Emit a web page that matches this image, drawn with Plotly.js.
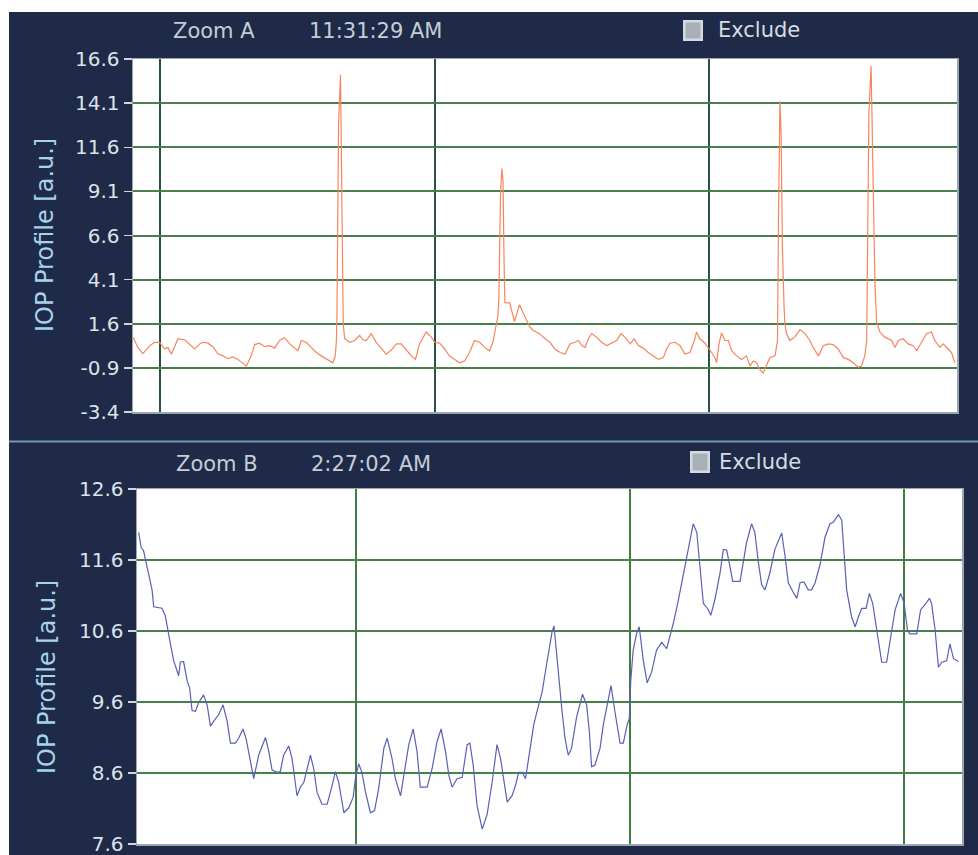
<!DOCTYPE html>
<html>
<head>
<meta charset="utf-8">
<script src="https://cdn.plot.ly/plotly-3.0.1.min.js"></script>
<style>html,body{margin:0;padding:0;background:#fff;}#chart{width:978px;height:855px;}</style>
</head>
<body>
<div id="chart"></div>
<script>
// ---- Zoom A (top) : IOP profile, samples vs a.u.
var topT = [
 0, 1.8, 3.6, 6.1, 7.9, 9.7, 11.5, 12.7, 14.0, 15.2,
 16.4, 18.8, 20.6, 22.5, 24.3, 25.5, 27.3, 29.1, 31.0, 32.8,
 34.6, 36.4, 38.2, 40.1, 41.3, 43.1, 44.3, 46.1, 48.0, 49.8,
 51.6, 53.4, 55.2, 57.1, 58.9, 60.1, 61.3, 63.1, 64.9, 66.8,
 68.6, 71.0, 72.8, 73.7, 74.1, 74.3, 74.9, 75.6, 76.0, 76.1,
 76.5, 76.6, 77.1, 78.9, 80.7, 82.6, 83.8, 85.0, 86.8, 88.6,
 90.4, 92.3, 94.1, 95.9, 97.7, 99.5, 101.4, 102.9, 104.4, 106.8,
 108.7, 109.9, 111.7, 113.5, 115.3, 117.2, 119.0, 120.8, 122.6, 124.4,
 126.3, 128.1, 129.9, 131.1, 132.3, 132.9, 133.3, 133.9, 134.4, 134.8,
 135.2, 135.5, 137.2, 139.0, 140.8, 142.6, 144.5, 145.7, 148.1, 150.1,
 151.9, 153.7, 155.6, 157.4, 159.2, 161.0, 162.2, 163.5, 164.7, 165.9,
 167.1, 168.9, 170.7, 172.6, 174.4, 176.2, 177.8, 179.2, 181.1, 182.6,
 184.1, 185.9, 187.7, 189.6, 191.4, 193.2, 194.4, 195.6, 197.4, 199.3,
 201.1, 202.9, 204.5, 205.3, 206.5, 208.4, 209.6, 210.8, 212.0, 212.6,
 213.5, 214.4, 215.7, 216.9, 218.1, 219.9, 221.7, 223.5, 224.8, 226.0,
 227.2, 228.4, 229.6, 230.8, 232.0, 233.9, 234.8, 235.2, 235.7, 236.1,
 236.6, 237.2, 237.5, 238.1, 239.3, 241.1, 243.0, 244.8, 246.6, 247.8,
 249.7, 251.5, 253.3, 255.1, 256.9, 258.8, 260.6, 262.4, 264.2, 265.4,
 266.6, 267.3, 267.6, 268.1, 268.9, 269.2, 269.8, 270.3, 270.9, 272.1,
 273.9, 276.4, 277.6, 278.8, 280.6, 282.4, 284.2, 285.5, 287.3, 289.1,
 290.9, 292.1, 294.0, 295.2, 297.0, 298.2, 299.4
];
var topV = [
 0.84, 0.26, -0.09, 0.36, 0.55, 0.55, 0.17, 0.26, -0.12, 0.36,
 0.75, 0.69, 0.46, 0.17, 0.46, 0.55, 0.50, 0.30, -0.12, -0.22,
 -0.38, -0.28, -0.42, -0.67, -0.80, -0.22, 0.42, 0.50, 0.30, 0.36,
 0.22, 0.65, 0.81, 0.46, 0.22, 0.07, 0.65, 0.55, 0.26, -0.03,
 -0.22, -0.47, -0.61, -0.22, 0.65, 2.0, 13.0, 15.7, 10.0, 5.2,
 2.8, 1.6, 0.75, 0.55, 0.65, 0.94, 0.69, 0.65, 1.04, 0.55,
 0.22, -0.12, 0.11, 0.46, 0.46, 0.11, -0.22, -0.42, 0.46, 1.13,
 0.84, 0.55, 0.50, 0.17, -0.22, -0.42, -0.61, -0.51, -0.03, 0.65,
 0.55, 0.26, 0.07, 0.55, 1.43, 2.0, 3.0, 9.0, 10.4, 9.7,
 5.0, 2.8, 2.78, 1.72, 2.68, 2.10, 1.43, 1.23, 1.04, 0.75,
 0.55, 0.17, -0.03, -0.12, 0.46, 0.55, 0.65, 0.36, 0.26, 0.75,
 1.04, 0.84, 0.55, 0.36, 0.50, 0.65, 1.04, 0.84, 0.46, 0.75,
 0.36, 0.22, -0.03, -0.22, -0.42, -0.32, 0.17, 0.50, 0.55, 0.36,
 -0.12, -0.03, 0.65, 1.13, 0.75, 0.50, 0.26, -0.03, -0.32, -0.61,
 0.46, 1.08, 0.65, 0.65, 0.07, -0.22, -0.42, -0.22, -0.80, -0.51,
 -0.61, -1.00, -1.19, -0.80, -0.32, -0.22, 0.65, 8.0, 14.2, 12.5,
 6.0, 2.5, 1.6, 1.04, 0.65, 0.84, 1.27, 1.04, 0.65, 0.26,
 -0.22, 0.36, 0.46, 0.42, 0.17, -0.32, -0.42, -0.61, -0.86, -0.80,
 -0.22, 0.65, 6.0, 13.5, 16.2, 14.0, 8.0, 4.0, 1.7, 1.13,
 0.84, 0.65, 0.26, 0.65, 0.75, 0.46, 0.36, 0.07, 0.55, 1.04,
 1.13, 0.65, 0.26, 0.46, 0.17, -0.03, -0.61
];
var topTicks = [-3.4, -0.9, 1.6, 4.1, 6.6, 9.1, 11.6, 14.1, 16.6];

// ---- Zoom B (bottom)
var botT = [
 0.6, 1.5, 2.4, 3.0, 4.3, 5.5, 6.1, 7.9, 9.1, 10.3,
 11.2, 12.2, 13.4, 14.6, 15.2, 15.8, 17.0, 18.3, 19.2, 20.1,
 21.3, 22.5, 24.3, 25.6, 26.8, 28.0, 29.8, 31.4, 32.9, 34.1,
 35.9, 37.1, 38.7, 39.9, 41.4, 42.6, 44.4, 46.9, 48.1, 49.3,
 51.1, 52.3, 53.5, 55.4, 56.6, 58.4, 59.6, 60.9, 62.1, 63.3,
 64.5, 65.7, 67.5, 69.4, 71.2, 72.4, 73.6, 75.5, 77.3, 78.9,
 79.7, 80.9, 82.1, 83.4, 85.2, 86.7, 88.2, 90.1, 91.3, 93.1,
 94.3, 96.2, 97.4, 99.2, 100.8, 102.2, 103.4, 105.9, 107.7, 109.5,
 111.0, 112.6, 113.8, 115.0, 116.8, 118.7, 120.5, 121.5, 122.7, 124.1,
 126.0, 127.8, 129.6, 131.4, 132.7, 133.9, 135.1, 136.9, 138.1, 139.3,
 140.6, 141.8, 143.0, 144.8, 146.6, 147.9, 149.1, 150.3, 151.5, 152.2,
 153.1, 154.1, 155.0, 156.2, 157.4, 158.6, 160.4, 162.6, 164.1, 165.1,
 165.9, 167.1, 169.0, 170.2, 171.6, 173.0, 174.4, 176.3, 177.5, 178.9,
 179.7, 180.2, 181.1, 182.3, 183.3, 184.8, 186.2, 187.8, 189.6, 191.5,
 193.3, 194.5, 196.0, 197.6, 199.4, 201.2, 203.0, 204.3, 205.5, 206.7,
 208.5, 209.4, 210.9, 212.8, 214.0, 215.2, 216.4, 217.4, 220.1, 221.0,
 222.5, 224.3, 225.5, 226.8, 228.0, 229.2, 231.0, 232.8, 235.3, 236.5,
 237.7, 239.3, 240.8, 242.0, 243.4, 245.0, 246.2, 247.5, 249.3, 251.1,
 252.9, 254.1, 256.0, 257.2, 258.0, 259.0, 260.8, 262.1, 263.3, 264.5,
 266.1, 267.3, 268.5, 270.0, 271.8, 273.6, 274.8, 276.7, 278.7, 280.0,
 281.2, 282.1, 284.6, 286.0, 287.6, 289.2, 290.0, 291.3, 292.5, 293.7,
 295.5, 296.7, 298.0, 299.8
];
var botV = [
 11.99, 11.78, 11.73, 11.63, 11.42, 11.18, 10.94, 10.93, 10.92, 10.82,
 10.61, 10.42, 10.18, 10.02, 9.97, 10.16, 10.17, 9.90, 9.80, 9.48,
 9.47, 9.59, 9.70, 9.56, 9.26, 9.33, 9.42, 9.56, 9.33, 9.02,
 9.02, 9.09, 9.22, 9.07, 8.76, 8.52, 8.85, 9.10, 8.90, 8.64,
 8.61, 8.62, 8.85, 8.98, 8.80, 8.28, 8.40, 8.47, 8.66, 8.85,
 8.66, 8.33, 8.16, 8.16, 8.42, 8.62, 8.47, 8.04, 8.11, 8.26,
 8.52, 8.73, 8.61, 8.33, 8.04, 8.07, 8.38, 8.95, 9.09, 8.80,
 8.52, 8.28, 8.57, 9.00, 9.22, 8.90, 8.40, 8.40, 8.66, 9.04,
 9.22, 8.90, 8.57, 8.40, 8.52, 8.54, 9.00, 9.02, 8.71, 8.14,
 7.81, 8.02, 8.47, 9.00, 8.80, 8.47, 8.19, 8.28, 8.42, 8.61,
 8.61, 8.52, 8.80, 9.28, 9.56, 9.75, 10.04, 10.33, 10.59, 10.67,
 10.28, 9.87, 9.52, 9.09, 8.85, 8.95, 9.38, 9.71, 9.56, 9.18,
 8.69, 8.71, 8.95, 9.28, 9.56, 9.83, 9.47, 9.02, 9.02, 9.28,
 9.37, 9.90, 10.33, 10.56, 10.66, 10.18, 9.87, 10.02, 10.33, 10.44,
 10.35, 10.52, 10.75, 11.04, 11.40, 11.75, 12.11, 11.99, 11.51, 10.99,
 10.90, 10.82, 11.04, 11.42, 11.75, 11.74, 11.51, 11.30, 11.30, 11.51,
 11.85, 12.11, 11.99, 11.56, 11.25, 11.18, 11.42, 11.75, 11.98, 11.66,
 11.28, 11.16, 11.06, 11.28, 11.29, 11.18, 11.18, 11.28, 11.54, 11.92,
 12.11, 12.13, 12.24, 12.16, 11.75, 11.18, 10.80, 10.66, 10.80, 10.92,
 10.92, 11.13, 10.99, 10.61, 10.16, 10.16, 10.47, 10.90, 11.13, 10.99,
 10.61, 10.56, 10.56, 10.90, 10.97, 11.06, 10.99, 10.61, 10.09, 10.16,
 10.18, 10.42, 10.21, 10.17
];
var botTicks = [7.6, 8.6, 9.6, 10.6, 11.6, 12.6];

var headerA = ["Zoom A", "11:31:29 AM", "Exclude"];
var headerB = ["Zoom B", "2:27:02 AM", "Exclude"];
var yTitle = "IOP Profile [a.u.]";

// ---- layout helpers (pixel -> paper)
var W = 978, H = 855;
function px(x){ return x / W; }
function py(y){ return 1 - y / H; }

var NAVY = "#1e2a48";
var FONT = "DejaVu Sans";
var tickFont = {family: FONT, size: 20, color: "#dde3e8"};
var hdrFont = {family: FONT, size: 21, color: "#c3ced7"};

function yAxis(dom, ticks, anchor){
  return {
    domain: dom, range: [ticks[0], ticks[ticks.length - 1]], anchor: anchor,
    tickmode: "array", tickvals: ticks,
    ticktext: ticks.map(function(v){ return v.toFixed(1); }),
    ticks: "outside", ticklen: 8, tickwidth: 1.5, tickcolor: "#cfd7dd",
    tickfont: tickFont, ticklabeloverflow: "allow",
    showgrid: true, gridcolor: "#478049", gridwidth: 2,
    zeroline: false, showline: true, linecolor: "#9aa6b0", linewidth: 1.5, mirror: true,
    fixedrange: true
  };
}
function xAxis(dom, rng, t0, anchor, gc){
  return {
    domain: dom, range: rng, anchor: anchor,
    tick0: t0, dtick: 100, ticks: "", showticklabels: false,
    showgrid: true, gridcolor: gc, gridwidth: 2,
    zeroline: false, showline: true, linecolor: "#9aa6b0", linewidth: 1.5, mirror: true,
    fixedrange: true
  };
}

var traces = [
  {x: topT, y: topV, xaxis: "x", yaxis: "y", type: "scatter", mode: "lines",
   line: {color: "#f7845e", width: 1.2}, hoverinfo: "skip"},
  {x: botT, y: botV, xaxis: "x2", yaxis: "y2", type: "scatter", mode: "lines",
   line: {color: "#5a60b4", width: 1.2}, hoverinfo: "skip"}
];

function checkbox(x0, y0, x1, y1){
  return [
    {type: "rect", xref: "paper", yref: "paper", x0: px(x0), x1: px(x1), y0: py(y1), y1: py(y0),
     fillcolor: "#d4dbe0", line: {width: 0}, layer: "above"},
    {type: "rect", xref: "paper", yref: "paper", x0: px(x0 + 2.5), x1: px(x1 - 2.5), y0: py(y1 - 2.5), y1: py(y0 + 2.5),
     fillcolor: "#a9b0b8", line: {width: 0}, layer: "above"}
  ];
}

var shapes = [
  {type: "rect", xref: "paper", yref: "paper", x0: 0, x1: 1, y0: py(12), y1: 1,
   fillcolor: "#ffffff", line: {width: 0}, layer: "below"},
  {type: "rect", xref: "paper", yref: "paper", x0: 0, x1: px(9), y0: 0, y1: 1,
   fillcolor: "#ffffff", line: {width: 0}, layer: "below"},
  {type: "line", xref: "paper", yref: "paper", x0: px(9), x1: 1, y0: py(441.5), y1: py(441.5),
   line: {color: "#7896ac", width: 2}, layer: "above"}
].concat(checkbox(683, 20, 703, 41), checkbox(690, 451, 710, 473));

function ann(text, x, y, font, extra){
  var a = {text: text, xref: "paper", yref: "paper", x: px(x), y: py(y),
           xanchor: "left", yanchor: "middle", showarrow: false, font: font};
  if (extra) for (var k in extra) a[k] = extra[k];
  return a;
}
var titleFont = {family: FONT, size: 24, color: "#a6d3e8"};
var annotations = [
  ann(headerA[0], 171, 31, hdrFont),
  ann(headerA[1], 307, 31, hdrFont),
  ann(headerA[2], 716, 30, {family: FONT, size: 21, color: "#d5dde3"}),
  ann(headerB[0], 174, 464, hdrFont),
  ann(headerB[1], 309, 464, hdrFont),
  ann(headerB[2], 717, 462, {family: FONT, size: 21, color: "#d5dde3"}),
  ann(yTitle, 45, 235, titleFont, {xanchor: "center", textangle: -90}),
  ann(yTitle, 47, 677, titleFont, {xanchor: "center", textangle: -90})
];

var layout = {
  width: W, height: H,
  margin: {l: 0, r: 0, t: 0, b: 0, pad: 0},
  paper_bgcolor: NAVY, plot_bgcolor: "#ffffff",
  showlegend: false,
  font: {family: FONT},
  xaxis: xAxis([px(133), px(957)], [0, 300.2], 10, "y", "#2a5240"),
  yaxis: yAxis([py(412), py(59)], topTicks, "x"),
  xaxis2: xAxis([px(137), px(962)], [0, 301.1], 80, "y2", "#417c41"),
  yaxis2: yAxis([py(844), py(489)], botTicks, "x2"),
  shapes: shapes,
  annotations: annotations
};

Plotly.newPlot("chart", traces, layout, {displayModeBar: false, staticPlot: true});
</script>
</body>
</html>
